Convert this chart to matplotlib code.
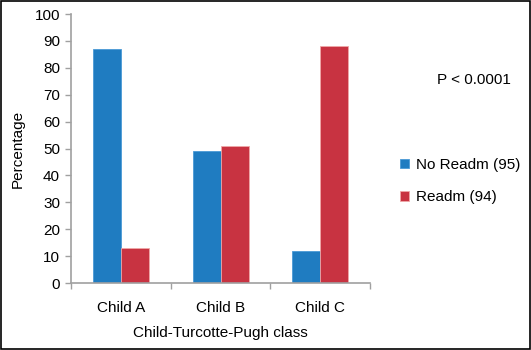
import matplotlib.pyplot as plt
import numpy as np

plt.rcParams['font.family'] = ['Liberation Sans', 'DejaVu Sans']

categories = ['Child A', 'Child B', 'Child C']
no_readm = [87, 49, 12]
readm = [13, 51, 88]
series_labels = ['No Readm (95)', 'Readm (94)']
y_ticks = list(range(0, 101, 10))

blue = '#1f7cc1'
red = '#c83341'
grey = '#a0a0a0'

fig = plt.figure(figsize=(5.31, 3.5), dpi=100)
ax = fig.add_axes([0.134, 0.191, 0.563, 0.769])

x = np.arange(len(categories))
w = 0.28
b1 = ax.bar(x - w / 2, no_readm, w, color=blue, edgecolor='#4a9ad6', linewidth=0.6, label=series_labels[0])
b2 = ax.bar(x + w / 2, readm, w, color=red, edgecolor='#f0a8a8', linewidth=0.6, label=series_labels[1])

ax.set_xlim(-0.5, len(categories) - 0.5)
ax.set_ylim(0, 100)
ax.set_yticks(y_ticks)
ax.set_xticks(x)
ax.set_xticklabels(categories)
ax.set_xticks(np.arange(len(categories) + 1) - 0.5, minor=True)
ax.tick_params(axis='x', which='major', length=0, pad=13, labelsize=11)
ax.tick_params(axis='x', which='minor', length=4, color=grey, width=1)
ax.tick_params(axis='y', length=4, color=grey, width=1, labelsize=11, pad=4)

for s in ['top', 'right']:
    ax.spines[s].set_visible(False)
for s in ['left', 'bottom']:
    ax.spines[s].set_color(grey)
    ax.spines[s].set_linewidth(1.2)

ax.set_ylabel('Percentage', fontsize=11, labelpad=7)
ax.set_xlabel('Child-Turcotte-Pugh class', fontsize=11, labelpad=8)

fig.text(0.823, 0.77, 'P < 0.0001', fontsize=11, va='center')
fig.legend(handles=[b1, b2], labels=series_labels, loc='center left',
           bbox_to_anchor=(0.728, 0.483), frameon=False, fontsize=11,
           handlelength=0.6, handleheight=0.6, handletextpad=0.4, labelspacing=1.2)

# outer frame
fig.patches.append(plt.Rectangle((0.002, 0.003), 0.996, 0.994, transform=fig.transFigure,
                                 fill=False, edgecolor='black', linewidth=1.2))

fig.savefig('out.png', dpi=100)
